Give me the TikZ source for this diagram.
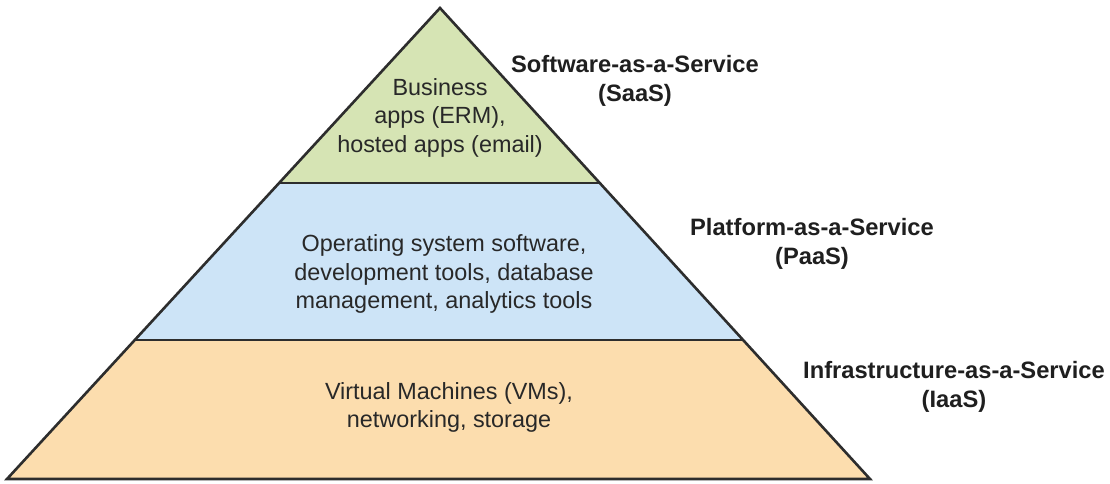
\documentclass[tikz,border=0pt]{standalone}
\usepackage{fontspec}
\setmainfont{Liberation Sans}
\usetikzlibrary{calc}
\definecolor{saasfill}{RGB}{214,228,180}
\definecolor{paasfill}{RGB}{205,228,247}
\definecolor{iaasfill}{RGB}{252,221,174}
\definecolor{edge}{RGB}{45,45,45}
\definecolor{bodytext}{RGB}{40,40,40}
\tikzset{
  layerline/.style={draw=edge, line width=2.6pt, line join=miter},
  bodylabel/.style={align=center, text=bodytext, inner sep=0pt,
    font=\fontsize{23.4}{28.5}\selectfont},
  tierlabel/.style={align=center, text=black!88, inner sep=0pt,
    font=\bfseries\fontsize{23.7}{29}\selectfont},
}
\begin{document}
\begin{tikzpicture}[x=1pt, y=-1pt]
  \useasboundingbox (0,0) rectangle (1110,483);
  \fill[white] (0,0) rectangle (1110,483);

  % pyramid corners and tier boundaries
  \coordinate (apex) at (440,8);
  \coordinate (bl) at (7,479);
  \coordinate (br) at (870,479);
  \coordinate (l1) at ($(apex)!0.3715!(bl)$);
  \coordinate (r1) at ($(apex)!0.3715!(br)$);
  \coordinate (l2) at ($(apex)!0.7049!(bl)$);
  \coordinate (r2) at ($(apex)!0.7049!(br)$);

  % tiers
  \fill[saasfill] (apex) -- (r1) -- (l1) -- cycle;
  \fill[paasfill] (l1) -- (r1) -- (r2) -- (l2) -- cycle;
  \fill[iaasfill] (l2) -- (r2) -- (br) -- (bl) -- cycle;

  % outline
  \draw[layerline] (apex) -- (br) -- (bl) -- cycle;
  \draw[layerline] (l1) -- (r1);
  \draw[layerline] (l2) -- (r2);

  % tier contents
  \node[bodylabel] (saasbody) at (440,117.5) {Business\\apps (ERM),\\hosted apps (email)};
  \node[bodylabel] (paasbody) at (444,274) {Operating system software,\\development tools, database\\management, analytics tools};
  \node[bodylabel] (iaasbody) at (449,407.5) {Virtual Machines (VMs),\\networking, storage};

  % tier names
  \node[tierlabel] (saas) at (635,81) {Software-as-a-Service\\(SaaS)};
  \node[tierlabel] (paas) at (812,244) {Platform-as-a-Service\\(PaaS)};
  \node[tierlabel] (iaas) at (954,387) {Infrastructure-as-a-Service\\(IaaS)};
\end{tikzpicture}
\end{document}
